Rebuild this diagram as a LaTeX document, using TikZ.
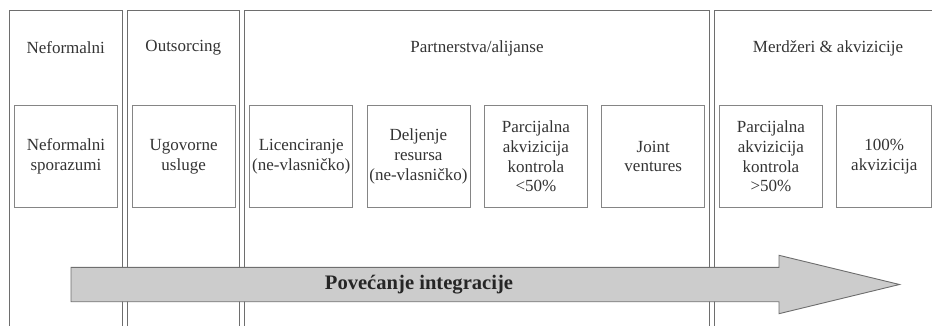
\documentclass[tikz,border=0pt]{standalone}
\usepackage{fontspec}
\setmainfont{Liberation Serif}
\definecolor{linegray}{HTML}{6E6E6E}
\definecolor{boxgray}{HTML}{858585}
\definecolor{txtgray}{HTML}{333333}
\definecolor{arrowfill}{HTML}{CCCCCC}
\begin{document}
\begin{tikzpicture}[x=1pt,y=-1pt,
  colbox/.style={draw=linegray,line width=0.9pt},
  itembox/.style={draw=boxgray,line width=0.9pt,minimum width=103pt,minimum height=102.6pt,
    anchor=north west,align=center,inner sep=0pt,text=txtgray,
    font=\fontsize{17}{19.8}\selectfont},
  coltitle/.style={text=txtgray,font=\fontsize{17}{20}\selectfont,inner sep=0pt},
  bigarrow/.style={draw=linegray,fill=arrowfill,line width=0.9pt}]
\useasboundingbox (0,0) rectangle (932,326);
\clip (0,0) rectangle (932,326);
% columns
\draw[colbox] (9.5,10.7) rectangle (122,345);
\draw[colbox] (127,10.7) rectangle (239.5,345);
\draw[colbox] (244.5,10.7) rectangle (709.3,345);
\draw[colbox] (714.3,10.7) rectangle (945,345);
% titles
\node[coltitle] (t1) at (65.75,48) {Neformalni};
\node[coltitle] (t2) at (183.25,48) {Outsorcing};
\node[coltitle] (t3) at (477,48) {Partnerstva/alijanse};
\node[coltitle] (t4) at (828,48) {Merdžeri \& akvizicije};
% item boxes
\node[itembox] (b1) at (14,104.7) {Neformalni\\sporazumi};
\node[itembox] (b2) at (131.7,104.7) {Ugovorne\\usluge};
\node[itembox] (b3) at (249.3,104.7) {Licenciranje\\(ne-vlasničko)};
\node[itembox] (b4) at (366.5,104.7) {Deljenje\\resursa\\(ne-vlasničko)};
\node[itembox] (b5) at (484,104.7) {Parcijalna\\akvizicija\\kontrola\\<50\%};
\node[itembox] (b6) at (601.3,104.7) {Joint\\ventures};
\node[itembox] (b7) at (719,104.7) {Parcijalna\\akvizicija\\kontrola\\>50\%};
\node[itembox,minimum width=95pt] (b8) at (836.3,104.7) {100\%\\akvizicija};
% arrow
\draw[bigarrow] (71,267.3) -- (779,267.3) -- (779,255.3) -- (899.5,284.5)
  -- (779,313.7) -- (779,301.7) -- (71,301.7) -- cycle;
\node[inner sep=0pt,text=black!85,font=\fontsize{20.6}{24}\selectfont\bfseries] (lab) at (419,285) {Povećanje integracije};
\end{tikzpicture}
\end{document}
